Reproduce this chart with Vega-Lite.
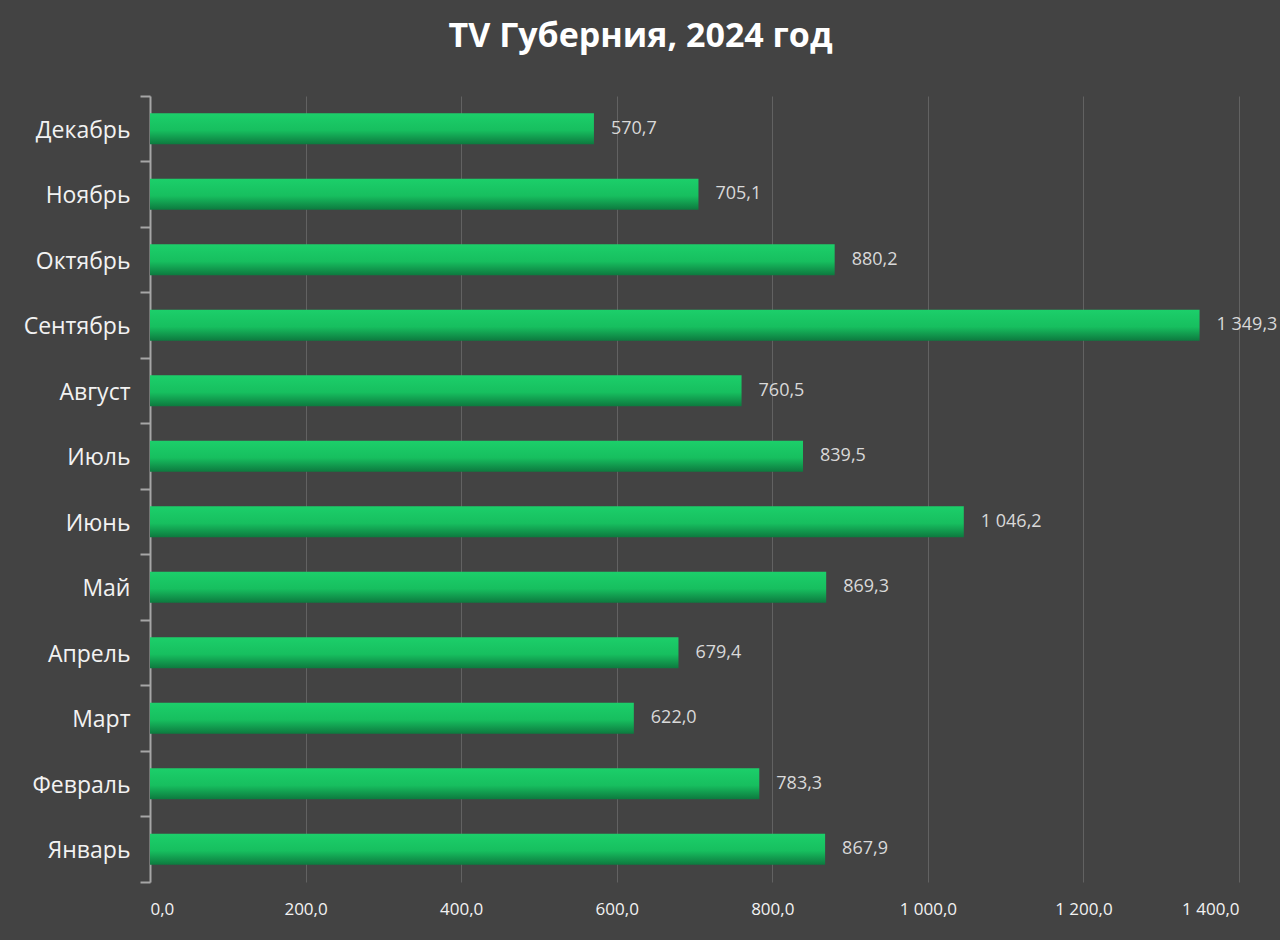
{
  "$schema": "https://vega.github.io/schema/vega-lite/v6.json",
  "width": 1089,
  "height": 786,
  "autosize": {"type": "none"},
  "padding": {"left": 150, "top": 96, "right": 41, "bottom": 58},
  "background": "#434343",
  "config": {
    "locale": {"number": {"decimal": ",", "thousands": "\u00a0", "grouping": [3], "currency": ["", ""]}},
    "view": {"stroke": null},
    "font": "Open Sans"
  },
  "title": {
    "text": "TV Губерния, 2024 год",
    "fontSize": 34,
    "fontWeight": "bold",
    "color": "#ffffff",
    "font": "Open Sans",
    "anchor": "middle",
    "frame": "group",
    "dx": -54,
    "baseline": "alphabetic",
    "offset": 4
  },
  "data": {
    "values": [
      {"month": "Январь", "value": 867.9},
      {"month": "Февраль", "value": 783.3},
      {"month": "Март", "value": 622.0},
      {"month": "Апрель", "value": 679.4},
      {"month": "Май", "value": 869.3},
      {"month": "Июнь", "value": 1046.2},
      {"month": "Июль", "value": 839.5},
      {"month": "Август", "value": 760.5},
      {"month": "Сентябрь", "value": 1349.3},
      {"month": "Октябрь", "value": 880.2},
      {"month": "Ноябрь", "value": 705.1},
      {"month": "Декабрь", "value": 570.7}
    ]
  },
  "encoding": {
    "y": {
      "field": "month",
      "type": "nominal",
      "sort": ["Декабрь", "Ноябрь", "Октябрь", "Сентябрь", "Август", "Июль", "Июнь", "Май", "Апрель", "Март", "Февраль", "Январь"],
      "scale": {"paddingInner": 0, "paddingOuter": 0},
      "axis": {
        "title": null,
        "grid": false,
        "domainColor": "#a6a6a6",
        "domainWidth": 2,
        "tickColor": "#a6a6a6",
        "tickWidth": 2,
        "tickSize": 10,
        "bandPosition": 1,
        "tickExtra": true,
        "labelFontSize": 23,
        "labelColor": "#f2f2f2",
        "labelPadding": 10,
        "labelOffset": 2,
        "labelFont": "Open Sans"
      }
    },
    "x": {
      "field": "value",
      "type": "quantitative",
      "scale": {"domain": [0, 1400], "nice": false},
      "axis": {
        "title": null,
        "values": [0, 200, 400, 600, 800, 1000, 1200, 1400],
        "format": ",.1f",
        "domain": false,
        "ticks": false,
        "grid": true,
        "gridColor": "#626262",
        "gridWidth": 1,
        "labelFontSize": 17,
        "labelColor": "#f2f2f2",
        "labelPadding": 19,
        "labelFont": "Open Sans"
      }
    }
  },
  "layer": [
    {
      "mark": {
        "type": "bar",
        "height": {"band": 0.47},
        "color": {
          "gradient": "linear",
          "x1": 0, "y1": 0, "x2": 0, "y2": 1,
          "stops": [
            {"offset": 0, "color": "#1ccf6a"},
            {"offset": 0.55, "color": "#17bf5f"},
            {"offset": 1, "color": "#0d7a3f"}
          ]
        }
      }
    },
    {
      "mark": {"type": "text", "align": "left", "dx": 17, "fontSize": 18, "color": "#d9d9d9", "font": "Open Sans"},
      "encoding": {
        "text": {"field": "value", "type": "quantitative", "format": ",.1f"}
      }
    }
  ]
}
